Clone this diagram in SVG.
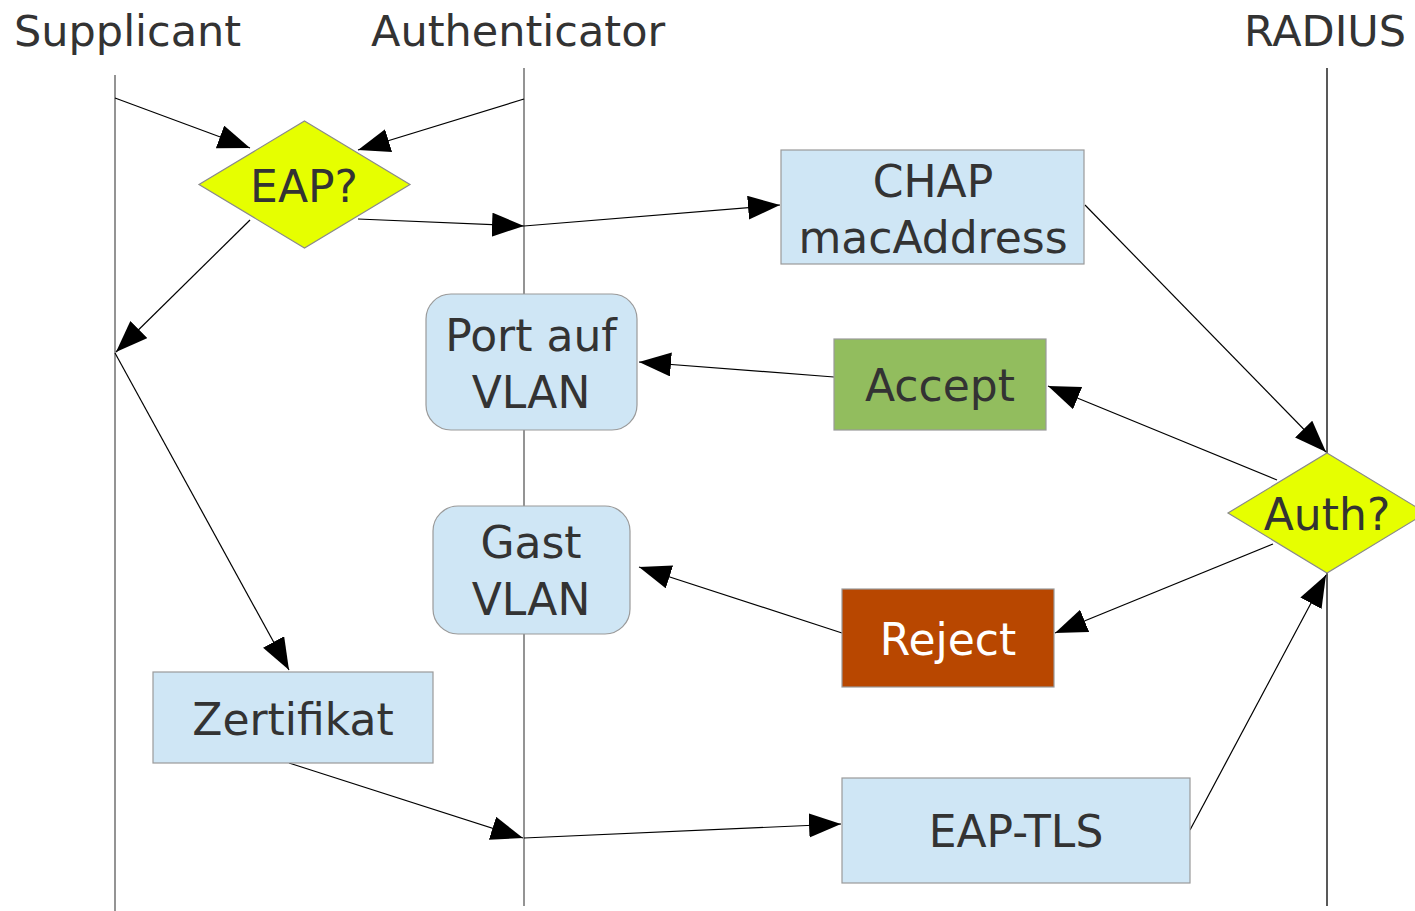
<svg xmlns="http://www.w3.org/2000/svg" width="1415" height="911" viewBox="0 0 1415 911">
<style>
text{font-family:"DejaVu Sans","Liberation Sans",sans-serif;font-size:44px;fill:#333333;text-anchor:middle}
.title{font-size:43px;text-anchor:start}
.life{stroke:#707070;stroke-width:1.5;fill:none}
.box{fill:#cfe6f5;stroke:#9a9a9a;stroke-width:1.2}
.dia{fill:#e6ff00;stroke:#8a8a8a;stroke-width:1.2}
.con line{stroke:#000;stroke-width:1.2;marker-end:url(#ah)}
</style>
<defs>
<marker id="ah" markerUnits="userSpaceOnUse" markerWidth="34" markerHeight="26" refX="32" refY="12" orient="auto">
<path d="M0,0 L32,12 L0,24 z" fill="#000"/>
</marker>
</defs>
<rect width="1415" height="911" fill="#fff"/>
<g id="lifelines">
<line class="life" x1="115" y1="75" x2="115" y2="911"/>
<line class="life" x1="524" y1="68" x2="524" y2="906"/>
<line class="life" x1="1327" y1="68" x2="1327" y2="906" style="stroke:#222"/>
</g>
<g id="titles">
<text class="title" x="14" y="46">Supplicant</text>
<text class="title" x="371" y="46">Authenticator</text>
<text class="title" x="1244" y="46">RADIUS</text>
</g>
<g class="con" id="connectors">
<line x1="115" y1="98" x2="250" y2="148"/>
<line x1="524" y1="99" x2="358" y2="150"/>
<line x1="358" y1="219" x2="524" y2="226"/>
<line x1="524" y1="226" x2="780" y2="205"/>
<line x1="250" y1="220" x2="116" y2="352"/>
<line x1="115" y1="353" x2="289" y2="670"/>
<line x1="289" y1="763" x2="523" y2="838"/>
<line x1="524" y1="838" x2="841" y2="824"/>
<line x1="1190" y1="830" x2="1326" y2="575"/>
<line x1="1085" y1="205" x2="1326" y2="452"/>
<line x1="1277" y1="480" x2="1048" y2="386"/>
<line x1="834" y1="377" x2="639" y2="362"/>
<line x1="1273" y1="544" x2="1055" y2="633"/>
<line x1="842" y1="633" x2="639" y2="567"/>
</g>
<g id="eap">
<polygon class="dia" points="304.5,121 410,184.5 304.5,248 199,184.5"/>
<text x="304" y="202">EAP?</text>
</g>
<g id="chap">
<rect class="box" x="781" y="150" width="303" height="114"/>
<text x="933" y="197">CHAP</text>
<text x="933" y="253">macAddress</text>
</g>
<g id="port">
<rect class="box" x="426" y="294" width="211" height="136" rx="25"/>
<text x="531" y="351">Port auf</text>
<text x="531" y="408">VLAN</text>
</g>
<g id="accept">
<rect class="box" x="834" y="339" width="212" height="91" style="fill:#92bd5e"/>
<text x="940" y="401">Accept</text>
</g>
<g id="auth">
<polygon class="dia" points="1327,453 1426,513 1327,573 1228,513"/>
<text x="1327" y="530">Auth?</text>
</g>
<g id="gast">
<rect class="box" x="433" y="506" width="197" height="128" rx="25"/>
<text x="531" y="558">Gast</text>
<text x="531" y="615">VLAN</text>
</g>
<g id="reject">
<rect class="box" x="842" y="589" width="212" height="98" style="fill:#b84700"/>
<text x="948" y="655" style="fill:#ffffff">Reject</text>
</g>
<g id="zertifikat">
<rect class="box" x="153" y="672" width="280" height="91"/>
<text x="293" y="735">Zertifikat</text>
</g>
<g id="eaptls">
<rect class="box" x="842" y="778" width="348" height="105"/>
<text x="1016" y="847">EAP-TLS</text>
</g>
</svg>
